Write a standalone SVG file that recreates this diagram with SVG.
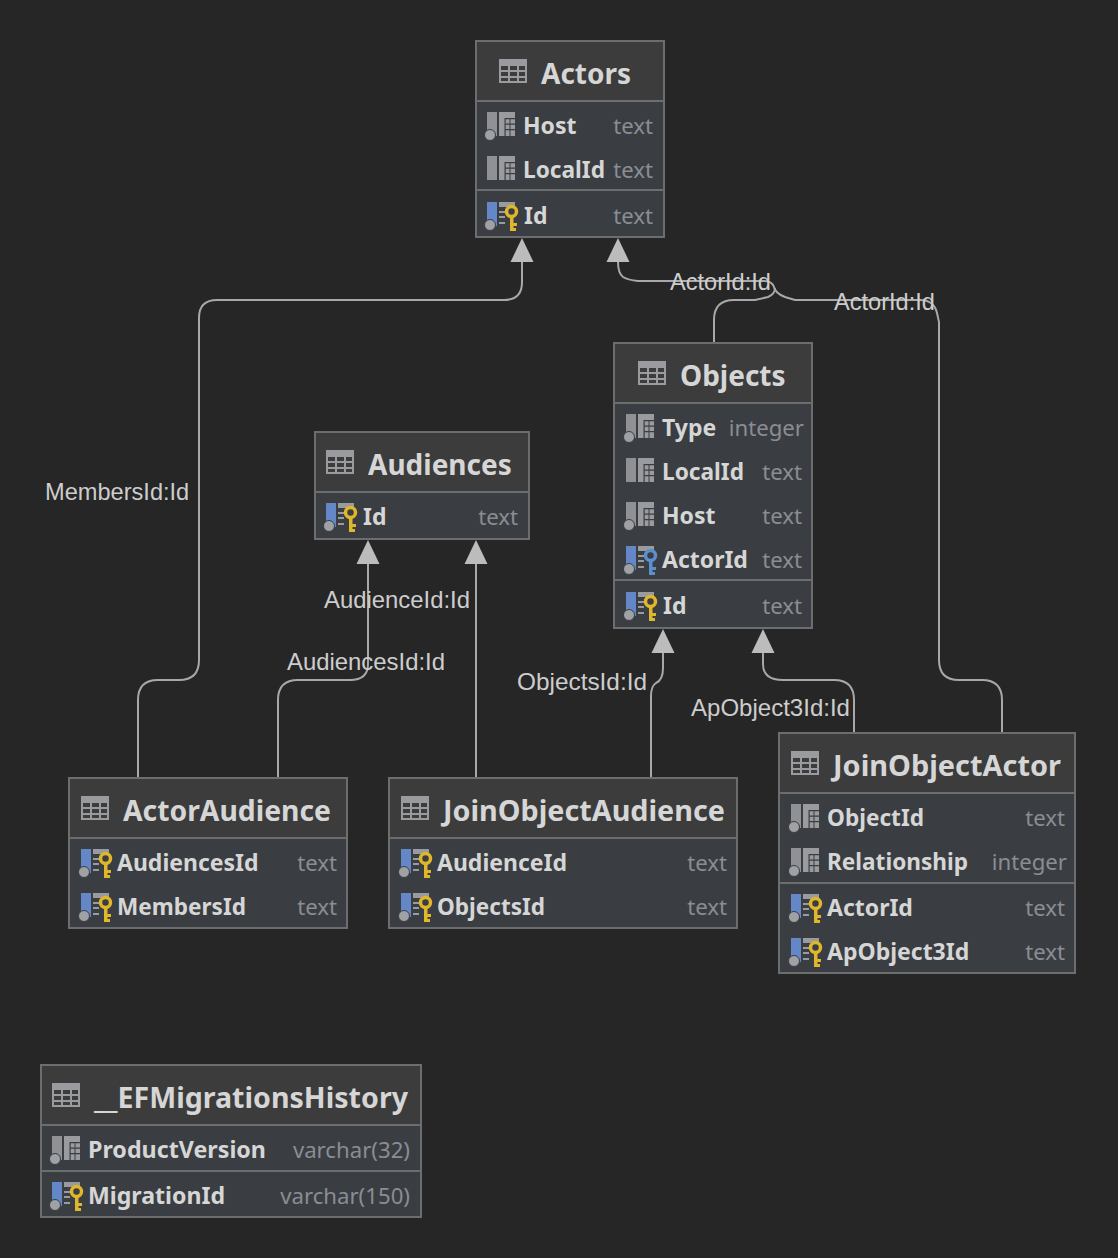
<svg xmlns="http://www.w3.org/2000/svg" width="1118" height="1258" viewBox="0 0 1118 1258">
<style>
.box{fill:#3a3e42;stroke:#6b6d6e;stroke-width:2}
.hd{fill:#3c3c3c}
.sep{stroke:#6b6d6e;stroke-width:2}
.t{font-family:"Noto Sans","Open Sans",sans-serif;font-size:28px;font-weight:700;fill:#d6d6d6}
.n{font-family:"Noto Sans","Open Sans",sans-serif;font-size:23px;font-weight:700;fill:#d6d6d6}
.y{font-family:"Noto Sans","Open Sans",sans-serif;font-size:22.2px;fill:#8a8d93;text-anchor:end}
.l{font-family:"Liberation Sans",Arial,sans-serif;font-size:23.6px;fill:#cdcdcd}
.c{fill:none;stroke:#a8a8a8;stroke-width:2}
.a{fill:#bcbcbc}
</style>
<defs>
<g id="tbl"><path d="M0 0h28v24h-28z" fill="#9a9b9f"/><path d="M2 7h7v4h-7zM11 7h7v4h-7zM20 7h6v4h-6zM2 13h7v4h-7zM11 13h7v4h-7zM20 13h6v4h-6zM2 19h7v3h-7zM11 19h7v3h-7zM20 19h6v3h-6z" fill="#3c3c3c"/></g>
<g id="grid"><path d="M0 0h16v24h-16z" fill="#9a9b9f"/><path d="M5.500 6h10.500v1.200h-10.500zM5.500 11.500h10.500v1.200h-10.500zM5.500 17h10.500v1.200h-10.500zM5.500 6h1.200v18h-1.200zM10.500 6h1v18h-1z" fill="#3a3e42"/></g>
<g id="col"><rect x="0" y="0" width="10" height="24" fill="#8f9194"/><use href="#grid" x="12"/></g>
<g id="idx"><use href="#col"/><circle cx="3" cy="23" r="5.500" fill="#a0a1a4" stroke="#3a3e42" stroke-width="1"/></g>
<g id="key"><circle cx="5.500" cy="5.500" r="5" fill="none" stroke="#e0b62a" stroke-width="3.500"/><path d="M4 10h3.500v15h-3.500zM7 17h4v3h-4zM7 22h3v3h-3z" fill="#e0b62a"/></g>
<g id="pk"><rect x="0" y="0" width="10" height="24" fill="#6487c8"/><path d="M12 0h16v5h-16zM12 9h6v2h-6zM12 14h6v2h-6zM12 20h6v2h-6z" fill="#9a9b9f"/><circle cx="3" cy="23" r="5.500" fill="#a0a1a4" stroke="#3a3e42" stroke-width="1"/><use href="#key" x="19" y="4"/></g>
<g id="fk"><rect x="0" y="0" width="10" height="24" fill="#6487c8"/><path d="M12 0h16v5h-16zM12 9h6v2h-6zM12 14h6v2h-6zM12 20h6v2h-6z" fill="#9a9b9f"/><circle cx="3" cy="23" r="5.500" fill="#a0a1a4" stroke="#3a3e42" stroke-width="1"/><circle cx="24.500" cy="9.500" r="5" fill="none" stroke="#5b8fd0" stroke-width="3.500"/><path d="M23 14h3.500v15h-3.500zM26 21h4v3h-4zM26 26h3v3h-3z" fill="#5b8fd0"/></g>
<path id="arr" d="M0 0l11.500 24h-23z"/>
</defs>
<rect width="1118" height="1258" fill="#262626"/>
<g id="connectors">
<path class="c" d="M522 262V282Q522 300 504 300H217Q199 300 199 318V660Q199 680 179 680H158Q138 680 138 700V778"/>
<path class="c" d="M368 562V664Q368 680 350 680H298Q278 680 278 700V778"/>
<path class="c" d="M476 562V778"/>
<path class="c" d="M618 262Q618 273 623 277Q628 280 638 281H764Q772 281 774 287Q775 293 785 297L795 300H920Q934 300 937 313L939 322V660Q939 680 959 680H982Q1002 680 1002 700V733"/>
<path class="c" d="M714 343V320Q714 300 734 300H755L768 297Q775 294 775 288"/>
<path class="c" d="M663 652V668Q663 680 656 683Q651 686 651 696V778"/>
<path class="c" d="M763 652V664Q763 680 783 680H834Q854 680 854 700V733"/>
<use href="#arr" class="a" x="522" y="238"/>
<use href="#arr" class="a" x="618" y="238"/>
<use href="#arr" class="a" x="368" y="540"/>
<use href="#arr" class="a" x="476" y="540"/>
<use href="#arr" class="a" x="663" y="629"/>
<use href="#arr" class="a" x="763" y="629"/>
<text class="l" x="670" y="290">ActorId:Id</text>
<text class="l" x="834" y="310">ActorId:Id</text>
<text class="l" x="45" y="500">MembersId:Id</text>
<text class="l" x="324" y="608" textLength="146" lengthAdjust="spacingAndGlyphs">AudienceId:Id</text>
<text class="l" x="287" y="670" textLength="158" lengthAdjust="spacingAndGlyphs">AudiencesId:Id</text>
<text class="l" x="517" y="690" textLength="130" lengthAdjust="spacingAndGlyphs">ObjectsId:Id</text>
<text class="l" x="691" y="716" textLength="159" lengthAdjust="spacingAndGlyphs">ApObject3Id:Id</text>
</g>
<g id="node-actors">
<rect class="box" x="476" y="41" width="188" height="196"/><rect class="hd" x="477" y="42" width="186" height="59"/>
<path class="sep" d="M477 101H663M477 190H663"/>
<use href="#tbl" x="499" y="59"/><text class="t" x="541" y="84">Actors</text>
<use href="#idx" x="487" y="112"/><text class="n" x="523" y="134">Host</text><text class="y" x="653" y="134">text</text>
<use href="#col" x="487" y="156"/><text class="n" x="523" y="178" textLength="82" lengthAdjust="spacingAndGlyphs">LocalId</text><text class="y" x="653" y="178">text</text>
<use href="#pk" x="487" y="202"/><text class="n" x="524" y="224">Id</text><text class="y" x="653" y="224">text</text>
</g>
<g id="node-objects">
<rect class="box" x="614" y="343" width="198" height="285"/><rect class="hd" x="615" y="344" width="196" height="59"/>
<path class="sep" d="M615 403H811M615 580H811"/>
<use href="#tbl" x="638" y="361"/><text class="t" x="680" y="386">Objects</text>
<use href="#idx" x="626" y="414"/><text class="n" x="662" y="436">Type</text><text class="y" x="804" y="436">integer</text>
<use href="#col" x="626" y="458"/><text class="n" x="662" y="480" textLength="82" lengthAdjust="spacingAndGlyphs">LocalId</text><text class="y" x="802" y="480">text</text>
<use href="#idx" x="626" y="502"/><text class="n" x="662" y="524">Host</text><text class="y" x="802" y="524">text</text>
<use href="#fk" x="626" y="546"/><text class="n" x="662" y="568">ActorId</text><text class="y" x="802" y="568">text</text>
<use href="#pk" x="626" y="592"/><text class="n" x="663" y="614">Id</text><text class="y" x="802" y="614">text</text>
</g>
<g id="node-audiences">
<rect class="box" x="315" y="432" width="214" height="107"/><rect class="hd" x="316" y="433" width="212" height="59"/>
<path class="sep" d="M316 492H528"/>
<use href="#tbl" x="326" y="450"/><text class="t" x="368" y="475">Audiences</text>
<use href="#pk" x="326" y="503"/><text class="n" x="363" y="525">Id</text><text class="y" x="518" y="525">text</text>
</g>
<g id="node-actoraudience">
<rect class="box" x="69" y="778" width="278" height="150"/><rect class="hd" x="70" y="779" width="276" height="59"/>
<path class="sep" d="M70 838H346"/>
<use href="#tbl" x="81" y="796"/><text class="t" x="123" y="821" textLength="208" lengthAdjust="spacingAndGlyphs">ActorAudience</text>
<use href="#pk" x="81" y="849"/><text class="n" x="117" y="871">AudiencesId</text><text class="y" x="337" y="871">text</text>
<use href="#pk" x="81" y="893"/><text class="n" x="117" y="915" textLength="129" lengthAdjust="spacingAndGlyphs">MembersId</text><text class="y" x="337" y="915">text</text>
</g>
<g id="node-joinobjectaudience">
<rect class="box" x="389" y="778" width="348" height="150"/><rect class="hd" x="390" y="779" width="346" height="59"/>
<path class="sep" d="M390 838H736"/>
<use href="#tbl" x="401" y="796"/><text class="t" x="443" y="821" textLength="282" lengthAdjust="spacingAndGlyphs">JoinObjectAudience</text>
<use href="#pk" x="401" y="849"/><text class="n" x="437" y="871">AudienceId</text><text class="y" x="727" y="871">text</text>
<use href="#pk" x="401" y="893"/><text class="n" x="437" y="915" textLength="108" lengthAdjust="spacingAndGlyphs">ObjectsId</text><text class="y" x="727" y="915">text</text>
</g>
<g id="node-joinobjectactor">
<rect class="box" x="779" y="733" width="296" height="240"/><rect class="hd" x="780" y="734" width="294" height="59"/>
<path class="sep" d="M780 793H1074M780 883H1074"/>
<use href="#tbl" x="791" y="751"/><text class="t" x="833" y="776" textLength="228" lengthAdjust="spacingAndGlyphs">JoinObjectActor</text>
<use href="#idx" x="791" y="804"/><text class="n" x="827" y="826" textLength="97" lengthAdjust="spacingAndGlyphs">ObjectId</text><text class="y" x="1065" y="826">text</text>
<use href="#idx" x="791" y="848"/><text class="n" x="827" y="870" textLength="141" lengthAdjust="spacingAndGlyphs">Relationship</text><text class="y" x="1067" y="870">integer</text>
<use href="#pk" x="791" y="894"/><text class="n" x="827" y="916">ActorId</text><text class="y" x="1065" y="916">text</text>
<use href="#pk" x="791" y="938"/><text class="n" x="827" y="960">ApObject3Id</text><text class="y" x="1065" y="960">text</text>
</g>
<g id="node-efmigrationshistory">
<rect class="box" x="41" y="1065" width="380" height="152"/><rect class="hd" x="42" y="1066" width="378" height="59"/>
<path class="sep" d="M42 1125H420M42 1171H420"/>
<use href="#tbl" x="52" y="1083"/><text class="t" x="94" y="1108" textLength="314" lengthAdjust="spacingAndGlyphs">__EFMigrationsHistory</text>
<use href="#idx" x="52" y="1136"/><text class="n" x="88" y="1158" textLength="178" lengthAdjust="spacingAndGlyphs">ProductVersion</text><text class="y" x="410" y="1158">varchar(32)</text>
<use href="#pk" x="52" y="1182"/><text class="n" x="88" y="1204" textLength="137" lengthAdjust="spacingAndGlyphs">MigrationId</text><text class="y" x="410" y="1204">varchar(150)</text>
</g>
</svg>
